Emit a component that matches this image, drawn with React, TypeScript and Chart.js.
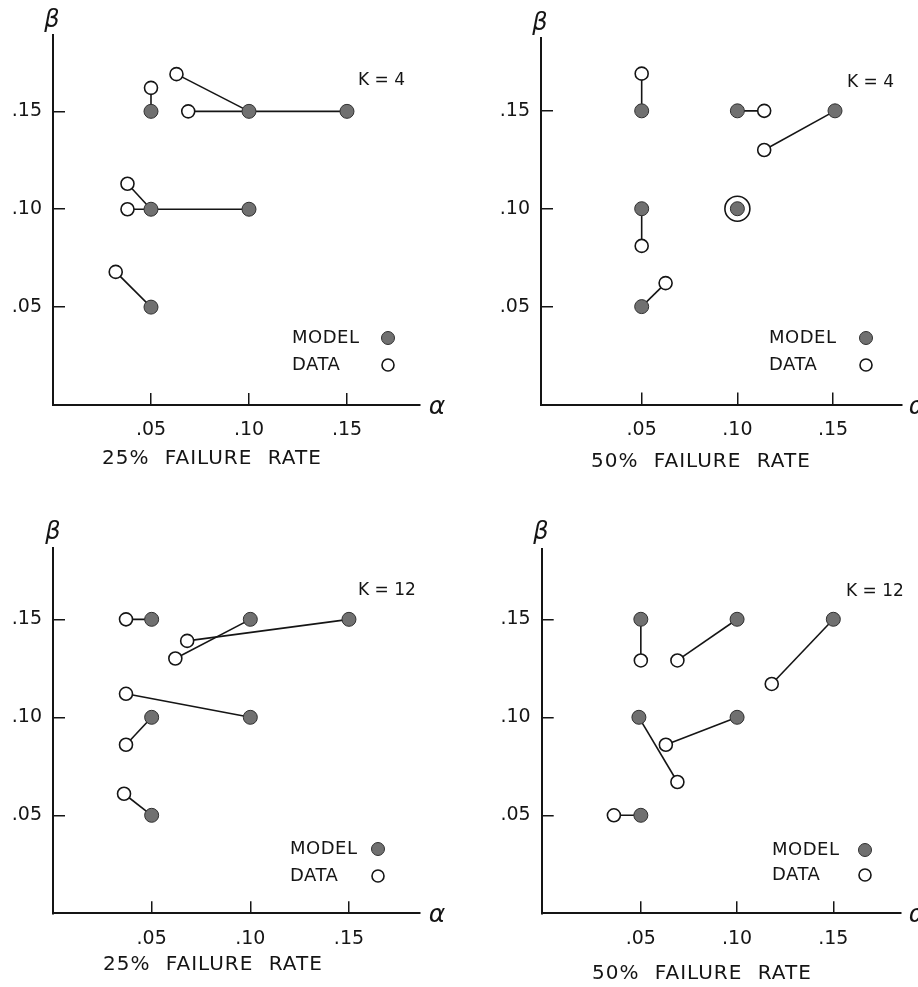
import React, { useEffect, useRef } from 'react';
import { Chart, registerables } from 'chart.js';

Chart.register(...registerables);

// ---- tick values and labels (shared by all panels) ----
const alphaTicks = [0.05, 0.1, 0.15];
const betaTicks = [0.05, 0.1, 0.15];
const tickLabels = ['.05', '.10', '.15'];

// ---- Panel 1: K = 4, 25% failure rate ----
const p1ModelAlpha = [0.05, 0.1, 0.15, 0.05, 0.1, 0.05];
const p1ModelBeta = [0.15, 0.15, 0.15, 0.1, 0.1, 0.05];
const p1DataAlpha = [0.05, 0.063, 0.069, 0.038, 0.038, 0.032];
const p1DataBeta = [0.162, 0.169, 0.15, 0.113, 0.1, 0.068];

// ---- Panel 2: K = 4, 50% failure rate ----
const p2ModelAlpha = [0.05, 0.05, 0.05, 0.1, 0.151, 0.1];
const p2ModelBeta = [0.15, 0.1, 0.05, 0.15, 0.15, 0.1];
const p2DataAlpha = [0.05, 0.05, 0.0625, 0.114, 0.114, 0.1];
const p2DataBeta = [0.169, 0.081, 0.062, 0.15, 0.13, 0.1];

// ---- Panel 3: K = 12, 25% failure rate ----
const p3ModelAlpha = [0.05, 0.1, 0.15, 0.1, 0.05, 0.05];
const p3ModelBeta = [0.15, 0.15, 0.15, 0.1, 0.1, 0.05];
const p3DataAlpha = [0.037, 0.062, 0.068, 0.037, 0.037, 0.036];
const p3DataBeta = [0.15, 0.13, 0.139, 0.112, 0.086, 0.061];

// ---- Panel 4: K = 12, 50% failure rate ----
const p4ModelAlpha = [0.05, 0.1, 0.15, 0.049, 0.1, 0.05];
const p4ModelBeta = [0.15, 0.15, 0.15, 0.1, 0.1, 0.05];
const p4DataAlpha = [0.05, 0.069, 0.118, 0.069, 0.063, 0.036];
const p4DataBeta = [0.129, 0.129, 0.117, 0.067, 0.086, 0.05];

const kLabels = ['K = 4', 'K = 4', 'K = 12', 'K = 12'];
const rateLabels = ['25% FAILURE RATE', '50% FAILURE RATE', '25% FAILURE RATE', '50% FAILURE RATE'];
const legendLabels = ['MODEL', 'DATA'];

const panels = [
  { modelAlpha: p1ModelAlpha, modelBeta: p1ModelBeta, dataAlpha: p1DataAlpha, dataBeta: p1DataBeta },
  { modelAlpha: p2ModelAlpha, modelBeta: p2ModelBeta, dataAlpha: p2DataAlpha, dataBeta: p2DataBeta },
  { modelAlpha: p3ModelAlpha, modelBeta: p3ModelBeta, dataAlpha: p3DataAlpha, dataBeta: p3DataBeta },
  { modelAlpha: p4ModelAlpha, modelBeta: p4ModelBeta, dataAlpha: p4DataAlpha, dataBeta: p4DataBeta },
];

// ---- layout (pixels, canvas-local) ----
const layouts = [
  { left: 0, top: 0, w: 459, h: 490, area: { l: 53, r: 419.5, t: 35, b: 405 }, x: [0, 0.187], y: [0, 0.189],
    beta: [52, 27], alpha: [437, 414], k: [358, 81], legend: { tx: 292, mx: 388, y1: 338, y2: 365 }, title: [102, 459] },
  { left: 459, top: 0, w: 459, h: 490, area: { l: 82, r: 443, t: 38, b: 404.5 }, x: [-0.0026, 0.186], y: [0, 0.1872],
    beta: [81, 30], alpha: [458, 414], k: [388, 83], legend: { tx: 310, mx: 407, y1: 338, y2: 365 }, title: [132, 462] },
  { left: 0, top: 490, w: 459, h: 497, area: { l: 53, r: 420, t: 58, b: 423.3 }, x: [0, 0.186], y: [0, 0.1864],
    beta: [53, 49], alpha: [437, 432], k: [358, 101], legend: { tx: 290, mx: 378, y1: 359, y2: 386 }, title: [103, 475] },
  { left: 459, top: 490, w: 459, h: 497, area: { l: 82.7, r: 441.7, t: 59.3, b: 423.3 }, x: [-0.0015, 0.185], y: [0, 0.1857],
    beta: [82, 49], alpha: [458, 432], k: [387, 102], legend: { tx: 313, mx: 406, y1: 360, y2: 385 }, title: [133, 484] },
];

const INK = '#151515';
const MODEL_FILL = '#707070';
const MODEL_EDGE = '#303030';
const FONT = '"DejaVu Sans", Verdana, sans-serif';

const annotPlugin = {
  id: 'annot',
  afterDatasetsDraw(chart: any, _args: any, o: any) {
    const ctx = chart.ctx as CanvasRenderingContext2D;
    ctx.save();
    ctx.fillStyle = INK;
    ctx.strokeStyle = INK;
    // axis symbols
    ctx.textAlign = 'center';
    ctx.textBaseline = 'alphabetic';
    ctx.font = `italic 24px ${FONT}`;
    ctx.fillText('β', o.beta[0], o.beta[1]);
    ctx.font = `italic 25px ${FONT}`;
    ctx.fillText('α', o.alpha[0], o.alpha[1]);
    // K label
    ctx.textAlign = 'left';
    ctx.textBaseline = 'middle';
    ctx.font = `17px ${FONT}`;
    ctx.fillText(o.kText, o.k[0], o.k[1]);
    // legend
    ctx.font = `18px ${FONT}`;
    (ctx as any).letterSpacing = '0.5px';
    ctx.fillText(o.legend[0], o.lg.tx, o.lg.y1);
    ctx.fillText(o.legend[1], o.lg.tx, o.lg.y2);
    (ctx as any).letterSpacing = '0px';
    ctx.beginPath();
    ctx.arc(o.lg.mx, o.lg.y1, 6.5, 0, Math.PI * 2);
    ctx.fillStyle = MODEL_FILL;
    ctx.fill();
    ctx.lineWidth = 1;
    ctx.strokeStyle = MODEL_EDGE;
    ctx.stroke();
    ctx.beginPath();
    ctx.arc(o.lg.mx, o.lg.y2, 6, 0, Math.PI * 2);
    ctx.fillStyle = '#ffffff';
    ctx.fill();
    ctx.lineWidth = 1.6;
    ctx.strokeStyle = INK;
    ctx.stroke();
    // panel caption
    ctx.fillStyle = INK;
    ctx.font = `20px ${FONT}`;
    (ctx as any).letterSpacing = '1px';
    (ctx as any).wordSpacing = '8px';
    ctx.fillText(o.title, o.tpos[0], o.tpos[1]);
    ctx.restore();
  },
};

function PanelChart({ idx }: { idx: number }) {
  const ref = useRef<HTMLCanvasElement>(null);
  const L = layouts[idx];
  useEffect(() => {
    const canvas = ref.current!;
    const P = panels[idx];
    const modelPts = P.modelAlpha.map((a, i) => ({ x: a, y: P.modelBeta[i] }));
    const dataPts = P.dataAlpha.map((a, i) => ({ x: a, y: P.dataBeta[i] }));
    const coincident = (i: number) => P.dataAlpha[i] === P.modelAlpha[i] && P.dataBeta[i] === P.modelBeta[i];
    const pairSets = modelPts.map((m, i) => ({
      label: 'pair' + i,
      data: [m, dataPts[i]],
      showLine: true,
      borderColor: INK,
      borderWidth: 1.6,
      pointRadius: 0,
      order: 2,
    }));
    const chart = new Chart(canvas, {
      type: 'scatter',
      data: {
        datasets: [
          {
            label: legendLabels[0],
            data: modelPts,
            pointRadius: 7,
            pointBackgroundColor: MODEL_FILL,
            pointBorderColor: MODEL_EDGE,
            pointBorderWidth: 1,
            backgroundColor: MODEL_FILL,
            borderColor: MODEL_EDGE,
            order: 0,
          },
          {
            label: legendLabels[1],
            data: dataPts,
            pointRadius: (c: any) => (coincident(c.dataIndex) ? 12.5 : 6.5),
            pointBackgroundColor: '#ffffff',
            pointBorderColor: INK,
            pointBorderWidth: 1.6,
            backgroundColor: '#ffffff',
            borderColor: INK,
            order: 1,
          },
          ...pairSets,
        ] as any,
      },
      options: {
        animation: false,
        responsive: false,
        devicePixelRatio: 1,
        events: [],
        layout: { padding: { left: 0, top: L.area.t, right: L.w - L.area.r, bottom: 0 } },
        plugins: {
          legend: { display: false },
          tooltip: { enabled: false },
          annot: {
            beta: L.beta,
            alpha: L.alpha,
            k: L.k,
            kText: kLabels[idx],
            legend: legendLabels,
            lg: L.legend,
            title: rateLabels[idx],
            tpos: L.title,
          },
        } as any,
        scales: {
          x: {
            type: 'linear',
            position: 'bottom',
            min: L.x[0],
            max: L.x[1],
            afterBuildTicks: (s: any) => {
              s.ticks = alphaTicks.map((v) => ({ value: v }));
            },
            afterFit: (s: any) => {
              s.height = L.h - L.area.b;
            },
            grid: { display: true, drawOnChartArea: false, drawTicks: true, tickLength: -12, color: INK, lineWidth: 1.5 },
            border: { display: true, color: INK, width: 2 },
            ticks: {
              autoSkip: false,
              maxRotation: 0,
              padding: 26,
              color: INK,
              font: { family: FONT, size: 19 },
              callback: (_v: any, i: number) => tickLabels[i],
            },
          },
          y: {
            type: 'linear',
            position: 'left',
            min: L.y[0],
            max: L.y[1],
            afterBuildTicks: (s: any) => {
              s.ticks = betaTicks.map((v) => ({ value: v }));
            },
            afterFit: (s: any) => {
              s.width = L.area.l;
            },
            grid: { display: true, drawOnChartArea: false, drawTicks: true, tickLength: -12, color: INK, lineWidth: 1.5 },
            border: { display: true, color: INK, width: 2 },
            ticks: {
              autoSkip: false,
              padding: 23,
              color: INK,
              font: { family: FONT, size: 19 },
              callback: (_v: any, i: number) => tickLabels[i],
            },
          },
        },
      } as any,
      plugins: [annotPlugin],
    });
    return () => chart.destroy();
  }, [idx]);
  return (
    <div style={{ position: 'absolute', left: L.left, top: L.top, width: L.w, height: L.h }}>
      <canvas ref={ref} width={L.w} height={L.h} style={{ display: 'block', width: L.w, height: L.h }} />
    </div>
  );
}

export default function App() {
  return (
    <div style={{ position: 'absolute', left: 0, top: 0, width: 918, height: 987, background: '#ffffff', overflow: 'hidden' }}>
      {panels.map((_, i) => (
        <PanelChart key={i} idx={i} />
      ))}
    </div>
  );
}
